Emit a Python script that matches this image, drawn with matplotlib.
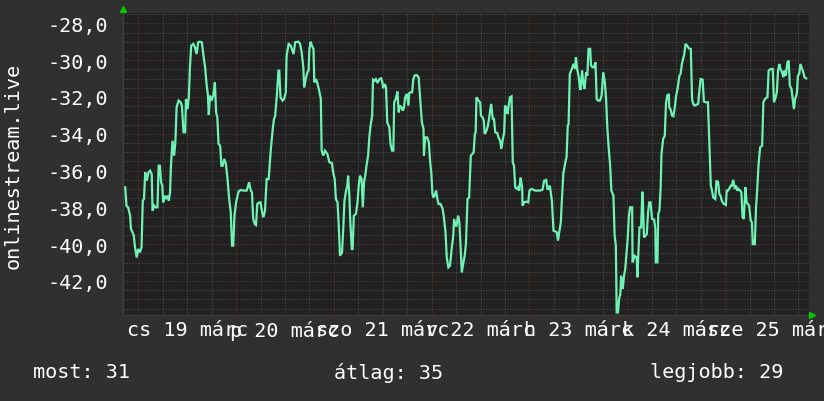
import matplotlib
matplotlib.use('Agg')
import matplotlib.pyplot as plt
from matplotlib.ticker import MultipleLocator

# hours since 19 márc 00:00, and the plotted value
hours = [
    -3.2, -2.9, -2.5, -2.0, -1.8, -1.4, -1.1, -0.8, -0.4, 0.0, 0.4, 0.8, 1.1, 1.4, 1.7, 2.1,
    2.5, 2.9, 3.3, 3.5, 3.9, 4.2, 4.7, 5.0, 5.3, 5.6, 5.9, 6.1, 6.5, 6.8, 7.1, 7.5, 7.8, 8.0,
    8.4, 8.8, 9.1, 9.4, 9.9, 10.4, 10.7, 11.1, 11.5, 11.7, 12.1, 12.4, 12.7, 13.0, 13.5, 13.9,
    14.3, 14.7, 15.1, 15.6, 16.0, 16.4, 16.8, 17.1, 17.3, 17.6, 18.0, 18.4, 18.8, 19.1, 19.4,
    19.7, 20.1, 20.4, 20.7, 21.1, 21.5, 21.9, 22.3, 22.7, 23.0, 23.3, 23.6, 24.0, 24.6, 25.1,
    25.8, 26.6, 27.2, 27.6, 27.9, 28.2, 28.6, 28.9, 29.2, 29.7, 30.0, 30.4, 30.7, 31.1, 31.5,
    32.0, 32.5, 33.0, 33.3, 33.6, 34.0, 34.4, 34.6, 34.9, 35.4, 35.8, 36.2, 36.4, 36.9, 37.4,
    38.1, 38.5, 39.3, 39.7, 40.1, 40.5, 40.7, 41.1, 41.5, 41.8, 42.0, 42.3, 42.6, 43.0, 43.2,
    43.6, 43.9, 44.3, 44.8, 45.0, 45.4, 45.8, 46.4, 46.9, 47.5, 47.9, 48.2, 48.5, 48.9, 49.2,
    49.5, 50.0, 50.3, 50.6, 51.0, 51.3, 51.5, 51.8, 52.0, 52.4, 52.6, 52.9, 53.4, 53.8, 54.1,
    54.4, 54.8, 55.1, 55.4, 55.7, 56.0, 56.4, 56.7, 57.0, 57.4, 57.6, 58.0, 58.3, 58.7, 59.2,
    59.6, 59.9, 60.1, 60.5, 60.8, 61.1, 61.6, 61.9, 62.3, 62.6, 62.8, 63.2, 63.6, 63.9, 64.2,
    64.6, 64.9, 65.2, 65.5, 65.9, 66.3, 66.5, 66.8, 67.2, 67.5, 67.8, 68.3, 68.8, 69.1, 69.6,
    70.0, 70.1, 70.4, 70.9, 71.3, 71.6, 71.9, 72.2, 72.4, 72.7, 73.1, 73.4, 73.7, 74.2, 74.7,
    75.0, 75.4, 75.7, 76.1, 76.5, 76.9, 77.3, 77.5, 77.8, 78.1, 78.5, 78.8, 79.4, 79.8, 80.1,
    80.4, 80.8, 81.2, 81.6, 82.0, 82.3, 82.6, 82.8, 83.0, 83.5, 83.9, 84.1, 84.5, 84.8, 85.0,
    85.3, 85.7, 86.0, 86.3, 86.6, 87.0, 87.3, 87.6, 88.1, 88.4, 88.8, 89.1, 89.4, 89.8, 90.0,
    90.3, 90.6, 90.9, 91.2, 91.6, 91.9, 92.2, 92.5, 92.9, 93.2, 93.5, 93.8, 94.2, 94.3, 94.7,
    95.2, 95.7, 96.0, 96.5, 97.4, 98.6, 99.2, 99.6, 100.1, 100.4, 100.7, 101.0, 101.5, 101.9,
    102.3, 102.7, 103.0, 103.3, 103.7, 103.9, 104.3, 104.8, 105.1, 105.4, 105.6, 105.9, 106.4,
    106.8, 107.2, 107.4, 107.7, 108.1, 108.4, 108.6, 108.9, 109.2, 109.5, 109.9, 110.2, 110.5,
    110.9, 111.1, 111.5, 111.8, 112.2, 112.5, 112.8, 113.3, 113.7, 114.1, 114.5, 114.8, 115.1,
    115.4, 115.8, 116.1, 116.6, 116.9, 117.2, 117.4, 117.7, 118.0, 118.3, 118.5, 118.9, 119.2,
    119.5, 119.9, 120.1, 120.4, 120.7, 121.2, 121.3, 121.8, 122.3, 122.5, 122.7, 123.0, 123.4,
    123.7, 123.9, 124.1, 124.5, 124.8, 125.1, 125.4, 125.7, 126.1, 126.6, 126.9, 127.0, 127.4,
    127.6, 127.9, 128.2, 128.4, 128.8, 129.2, 129.5, 129.8, 130.2, 130.3, 130.6, 131.0, 131.3,
    131.6, 132.0, 132.4, 132.8, 133.1, 133.4, 133.8, 134.0, 134.3, 134.7, 135.1, 135.6, 135.9,
    136.2, 136.5, 137.0, 137.4, 137.7, 138.0, 138.5, 138.8, 139.2, 139.8, 140.1, 140.5, 140.8,
    141.1, 141.6, 141.9, 142.3, 142.6, 142.9, 143.2, 143.7, 144.2, 144.4, 144.7, 145.0, 145.4,
    145.7, 146.0, 146.4, 146.7, 147.0, 147.3, 147.7, 148.0, 148.3, 148.6, 149.0, 149.3, 149.6,
    149.9, 150.3, 150.6, 150.8, 151.3, 151.6, 151.9, 152.2, 152.6, 153.1, 153.4, 153.9, 154.4,
    154.7, 155.2, 155.7, 156.0, 156.3, 156.7, 157.0, 157.3, 157.6, 158.0, 158.3, 158.6, 158.9,
    159.3, 159.6, 159.9, 160.3, 160.6, 160.9, 161.2, 161.6, 161.9, 162.2, 162.5, 162.9, 163.2,
    163.5, 163.9,
]
values = [
    -36.91, -37.91, -38.00, -38.45, -39.18, -39.36, -39.54, -40.17, -40.72, -40.26, -40.45,
    -40.17, -37.64, -37.55, -36.10, -36.55, -36.10, -36.01, -36.19, -38.18, -37.91, -38.00,
    -38.00, -35.74, -35.74, -36.64, -36.82, -37.73, -37.37, -37.55, -37.37, -37.64, -37.18,
    -35.83, -34.38, -35.19, -34.47, -32.57, -32.20, -32.29, -32.47, -33.92, -33.92, -32.11,
    -32.66, -32.02, -30.30, -29.21, -29.12, -29.30, -29.67, -29.03, -29.00, -29.03, -29.76,
    -30.39, -31.39, -31.93, -32.98, -31.93, -32.20, -31.93, -31.21, -32.84, -33.11, -34.56,
    -34.65, -35.74, -35.74, -35.37, -35.64, -36.46, -37.55, -38.27, -40.08, -40.08, -38.45,
    -37.73, -37.15, -37.06, -37.09, -37.09, -36.64, -37.09, -37.18, -38.63, -38.91, -38.96,
    -37.82, -37.73, -37.73, -38.27, -38.54, -38.18, -36.46, -36.46, -34.92, -33.74, -33.20,
    -33.02, -31.93, -30.57, -30.57, -32.02, -32.20, -32.11, -31.75, -29.76, -29.12, -29.21,
    -29.67, -29.03, -29.00, -29.12, -29.58, -30.39, -31.48, -31.03, -30.66, -30.57, -29.39,
    -29.00, -29.21, -29.39, -31.21, -31.03, -31.21, -31.57, -32.11, -34.92, -35.19, -34.92,
    -35.10, -35.55, -35.59, -36.19, -36.46, -37.55, -37.73, -39.00, -40.63, -40.45, -39.18,
    -37.64, -37.09, -36.82, -36.28, -37.37, -38.63, -40.26, -40.26, -38.45, -38.36, -37.73,
    -36.82, -36.28, -36.46, -38.00, -36.64, -36.28, -35.74, -35.19, -34.20, -33.56, -33.02,
    -31.06, -31.12, -31.03, -31.24, -31.03, -30.99, -31.21, -31.53, -31.30, -31.48, -33.38,
    -33.65, -34.56, -34.92, -34.92, -32.29, -32.11, -31.71, -32.84, -32.47, -32.57, -32.75,
    -32.57, -32.02, -31.84, -32.47, -31.79, -31.75, -31.75, -31.03, -30.84, -30.81, -30.93,
    -31.84, -33.38, -33.74, -35.19, -34.20, -34.20, -34.47, -35.46, -36.10, -37.28, -37.46,
    -37.37, -37.09, -37.55, -37.82, -37.82, -38.09, -38.54, -39.36, -40.72, -41.26, -41.17,
    -40.26, -39.54, -38.63, -39.00, -39.00, -38.45, -38.81, -41.53, -40.99, -40.63, -39.99,
    -37.55, -37.46, -35.19, -35.10, -35.01, -34.01, -33.92, -32.02, -32.20, -32.29, -33.02,
    -33.11, -33.29, -34.01, -33.92, -33.65, -33.29, -32.84, -32.38, -33.20, -33.20, -33.92,
    -33.96, -34.20, -34.38, -34.83, -34.38, -33.92, -32.47, -32.57, -32.93, -32.47, -32.02,
    -31.97, -35.55, -35.74, -36.91, -37.00, -36.91, -37.09, -36.37, -36.91, -37.91, -37.73,
    -37.69, -37.73, -37.09, -37.00, -37.09, -37.09, -37.04, -36.55, -36.51, -37.00, -37.00,
    -36.82, -37.64, -39.27, -39.30, -39.36, -39.81, -39.36, -38.82, -37.82, -36.19, -35.55,
    -35.28, -33.56, -33.47, -30.75, -30.48, -30.21, -30.48, -29.85, -30.48, -30.93, -31.57,
    -31.57, -30.57, -31.21, -31.57, -30.66, -30.84, -29.39, -29.39, -30.30, -30.39, -30.39,
    -30.12, -32.11, -32.20, -32.20, -31.93, -30.66, -31.21, -32.11, -33.65, -34.65, -35.74,
    -37.09, -37.37, -39.54, -40.08, -43.71, -43.71, -42.98, -42.71, -41.71, -42.44, -41.71,
    -41.35, -40.26, -39.72, -38.45, -38.00, -38.00, -40.99, -40.63, -40.72, -41.80, -40.63,
    -39.09, -39.09, -37.15, -38.09, -39.63, -39.54, -39.45, -38.27, -37.73, -37.73, -38.63,
    -38.67, -39.18, -40.99, -40.99, -38.36, -38.18, -36.91, -35.10, -34.29, -34.11, -32.38,
    -31.93, -31.84, -32.57, -32.66, -33.02, -33.05, -32.66, -31.93, -31.48, -30.84, -30.75,
    -30.21, -29.85, -29.67, -29.12, -29.21, -29.36, -29.39, -32.11, -32.38, -32.47, -32.42,
    -32.38, -31.66, -31.03, -31.06, -32.25, -32.29, -32.29, -34.20, -36.82, -37.09, -37.46,
    -37.55, -36.55, -36.64, -37.28, -37.37, -37.64, -37.82, -37.87, -37.09, -37.09, -37.00,
    -36.82, -36.82, -36.50, -37.00, -36.82, -37.09, -37.00, -37.09, -37.18, -38.54, -38.63,
    -36.91, -37.73, -37.82, -37.91, -38.72, -38.82, -40.00, -40.00, -38.00, -37.00, -35.74,
    -34.74, -34.65, -32.29, -32.08, -32.02, -30.57, -30.48, -30.48, -32.29, -32.11, -31.75,
    -30.57, -30.21, -30.48, -30.66, -30.93, -30.57, -30.84, -30.12, -30.03, -31.39, -31.57,
    -32.11, -32.66, -32.11, -31.84, -30.84, -30.75, -30.21, -30.48, -30.66, -30.93, -30.99,
]

day_labels = ['cs 19 márc', 'p 20 márc', 'szo 21 márc', 'v 22 márc',
              'h 23 márc', 'k 24 márc', 'sze 25 márc']
y_ticks = [-42, -40, -38, -36, -34, -32, -30, -28]
legend_items = [('most', 31), ('átlag', 35), ('legjobb', 29)]

CANVAS = '#303030'
BACK = '#212121'
LINE = '#6ff2b4'
MINOR = '#555555'
MAJOR = '#7a3636'
FONT = 'DejaVu Sans Mono'
FS = 14.5

fig = plt.figure(figsize=(8.24, 4.02), dpi=100, facecolor=CANVAS)
ax = fig.add_axes([123 / 824, 1 - 316 / 402, 686 / 824, 302 / 402])
ax.set_facecolor(BACK)

ax.plot(hours, values, color=LINE, lw=1.6, zorder=3, solid_joinstyle='miter')

ax.set_xlim(-3.75, 164.6)
ax.set_ylim(-43.85, -27.44)

# rrdtool style dotted grid
ax.xaxis.set_major_locator(MultipleLocator(24))
ax.xaxis.set_minor_locator(MultipleLocator(6))
ax.yaxis.set_minor_locator(MultipleLocator(0.5))
ax.set_yticks(y_ticks)
ax.set_yticklabels([f'{v:.1f}'.replace('.', ',') for v in y_ticks],
                   family=FONT, fontsize=FS, color='white')
ax.grid(which='minor', color=MINOR, lw=0.72, ls=(0, (1, 2)), zorder=1)
ax.grid(which='major', color=MAJOR, lw=0.72, ls=(0, (1, 2)), zorder=2)
ax.set_xticklabels([])
ax.tick_params(which='both', length=0)
ax.tick_params(axis='y', pad=11)

for s in ['top', 'right']:
    ax.spines[s].set_visible(False)
for s in ['left', 'bottom']:
    ax.spines[s].set_color('#3c3c3c')
    ax.spines[s].set_linewidth(1)

# day labels centred at noon, overlapping like the original
xt = ax.get_xaxis_transform()
for i, lab in enumerate(day_labels):
    ax.text(12 + 24 * i, -0.015, lab, transform=xt, ha='center', va='top',
            family=FONT, fontsize=FS, color='white', clip_on=False)

# little green axis arrows
ax.plot([0], [1.012], marker='^', ms=5, color='#00cc00', transform=ax.transAxes,
        clip_on=False, zorder=5)
ax.plot([1.004], [0], marker='>', ms=5, color='#00cc00', transform=ax.transAxes,
        clip_on=False, zorder=5)

fig.text(13 / 824, 1 - 166 / 402, 'onlinestream.live', rotation=90, ha='center',
         va='center', family=FONT, fontsize=FS, color='white')

for (name, val), xpos in zip(legend_items, [33, 334, 650]):
    fig.text(xpos / 824, 1 - 373 / 402, f'{name}: {val}', ha='left', va='center',
             family=FONT, fontsize=FS, color='white')

fig.savefig('out.png', dpi=100, facecolor=CANVAS)
